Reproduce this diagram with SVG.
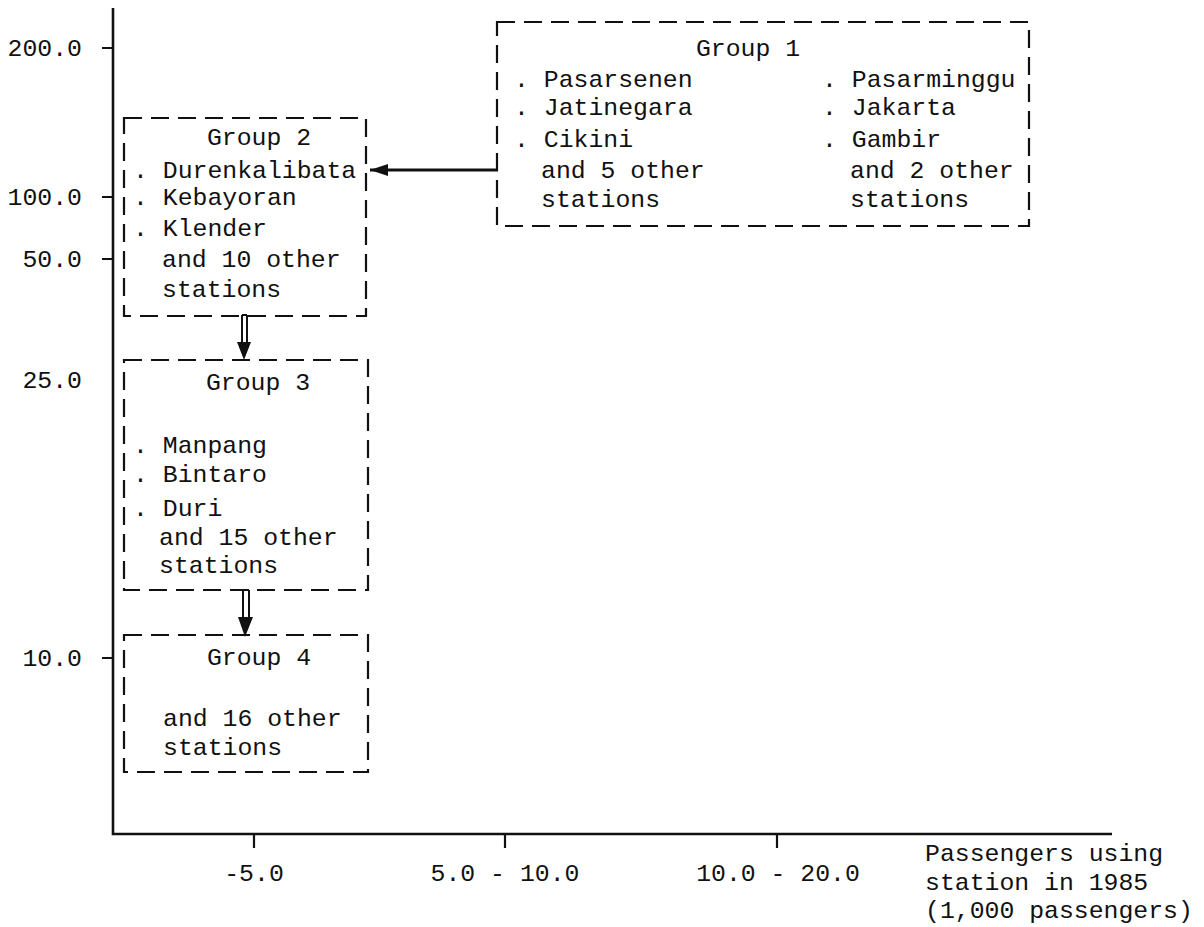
<svg xmlns="http://www.w3.org/2000/svg" width="1204" height="927" viewBox="0 0 1204 927">
<style>
text{font-family:"Liberation Mono","DejaVu Sans Mono",monospace;font-size:24.8px;fill:#111}
.box{fill:none;stroke:#111;stroke-width:2.2;stroke-dasharray:18 9}
.ax{stroke:#111;stroke-width:2.6;fill:none}
.tk{stroke:#111;stroke-width:2.2}
.mid{text-anchor:middle}
.end{text-anchor:end}
</style>
<defs>
<marker id="ah" viewBox="0 0 18 12" refX="18" refY="6" markerWidth="18" markerHeight="12" markerUnits="userSpaceOnUse" orient="auto">
<path d="M0,0 L18,6 L0,12 Z" fill="#111"/>
</marker>
</defs>
<rect width="1204" height="927" fill="#fff"/>
<g id="axes">
<path class="ax" d="M113,8 V834 H1112"/>
<path class="tk" d="M102,48 H113 M102,197 H113 M102,259 H113 M102,658 H113"/>
<path class="tk" d="M254,834 V848 M505,834 V848 M777,834 V848"/>
<text class="end" x="82" y="56">200.0</text>
<text class="end" x="82" y="205">100.0</text>
<text class="end" x="82" y="267">50.0</text>
<text class="end" x="82" y="388">25.0</text>
<text class="end" x="82" y="666">10.0</text>
<text class="mid" x="254" y="881">-5.0</text>
<text class="mid" x="505" y="881">5.0 - 10.0</text>
<text class="mid" x="778" y="881">10.0 - 20.0</text>
<text x="925" y="861">Passengers using</text>
<text x="925" y="890">station in 1985</text>
<text x="925" y="918">(1,000 passengers)</text>
</g>
<g id="group1">
<rect class="box" x="497" y="22" width="532" height="204"/>
<text class="mid" x="748" y="56">Group 1</text>
<text x="514" y="87">. Pasarsenen</text>
<text x="514" y="115">. Jatinegara</text>
<text x="514" y="147">. Cikini</text>
<text x="541" y="178">and 5 other</text>
<text x="541" y="207">stations</text>
<text x="822" y="87">. Pasarminggu</text>
<text x="822" y="115">. Jakarta</text>
<text x="822" y="147">. Gambir</text>
<text x="850" y="178">and 2 other</text>
<text x="850" y="207">stations</text>
</g>
<g id="group2">
<rect class="box" x="124" y="118" width="242" height="198"/>
<text class="mid" x="259" y="145">Group 2</text>
<text x="133" y="178">. Durenkalibata</text>
<text x="133" y="205">. Kebayoran</text>
<text x="133" y="236">. Klender</text>
<text x="162" y="267">and 10 other</text>
<text x="162" y="297">stations</text>
</g>
<g id="group3">
<rect class="box" x="124" y="360" width="244" height="230"/>
<text class="mid" x="258" y="390">Group 3</text>
<text x="133" y="453">. Manpang</text>
<text x="133" y="482">. Bintaro</text>
<text x="133" y="516">. Duri</text>
<text x="159" y="545">and 15 other</text>
<text x="159" y="573">stations</text>
</g>
<g id="group4">
<rect class="box" x="124" y="635" width="244" height="137"/>
<text class="mid" x="259" y="665">Group 4</text>
<text x="163" y="726">and 16 other</text>
<text x="163" y="755">stations</text>
</g>
<g id="connectors">
<line x1="498" y1="170" x2="370" y2="170" stroke="#111" stroke-width="3" marker-end="url(#ah)"/>
<path d="M242,315 V342 M247,315 V342 M242,315 H247" stroke="#111" stroke-width="2" fill="none"/>
<path d="M237,342 L251,342 L244,360 Z" fill="#111"/>
<path d="M243,590 V617 M249,590 V617 M243,590 H249" stroke="#111" stroke-width="2" fill="none"/>
<path d="M238,617 L253,617 L245,637 Z" fill="#111"/>
</g>
</svg>
